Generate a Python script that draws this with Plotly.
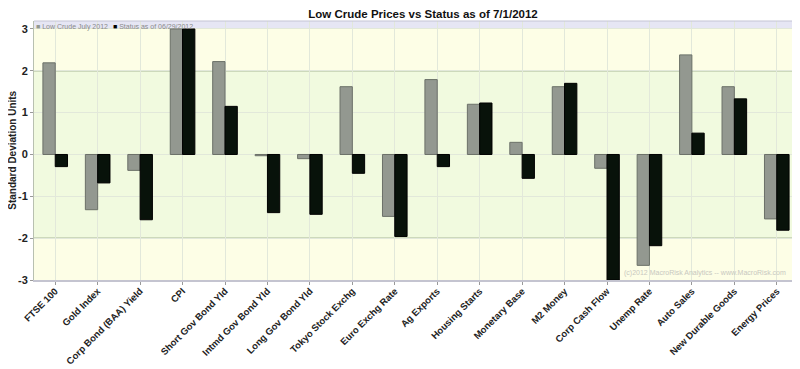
import plotly.graph_objects as go

categories = ["FTSE 100", "Gold Index", "Corp Bond (BAA) Yield", "CPI", "Short Gov Bond Yld",
              "Intmd Gov Bond Yld", "Long Gov Bond Yld", "Tokyo Stock Exchg", "Euro Exchg Rate",
              "Ag Exports", "Housing Starts", "Monetary Base", "M2 Money", "Corp Cash Flow",
              "Unemp Rate", "Auto Sales", "New Durable Goods", "Energy Prices"]
low_crude = [2.19, -1.32, -0.38, 3.0, 2.22, -0.03, -0.10, 1.62, -1.48,
             1.79, 1.20, 0.29, 1.62, -0.33, -2.65, 2.38, 1.62, -1.54]
status = [-0.29, -0.68, -1.56, 3.0, 1.15, -1.39, -1.43, -0.45, -1.96,
          -0.29, 1.23, -0.57, 1.70, -3.0, -2.18, 0.51, 1.33, -1.81]
y_ticks = [3, 2, 1, 0, -1, -2, -3]
series_names = ["Low Crude July 2012", "Status as of 06/29/2012"]

FONT = "Liberation Sans, Arial, sans-serif"
GREY = "#939890"
DARK = "#08120a"

fig = go.Figure()
fig.add_trace(go.Bar(x=categories, y=low_crude, name=series_names[0],
                     marker=dict(color=GREY, line=dict(color="#6b7068", width=1))))
fig.add_trace(go.Bar(x=categories, y=status, name=series_names[1],
                     marker=dict(color=DARK, line=dict(color="#000000", width=1))))

shapes = [
    dict(type="rect", xref="paper", yref="y", x0=0, x1=1, y0=2, y1=3, fillcolor="#fdfee6", line_width=0, layer="below"),
    dict(type="rect", xref="paper", yref="y", x0=0, x1=1, y0=-2, y1=2, fillcolor="#f1fadf", line_width=0, layer="below"),
    dict(type="rect", xref="paper", yref="y", x0=0, x1=1, y0=-3, y1=-2, fillcolor="#fdfee6", line_width=0, layer="below"),
    dict(type="rect", xref="paper", yref="y", x0=0, x1=1, y0=3, y1=3.19, fillcolor="#e6e6f4", line_width=0, layer="below"),
    dict(type="line", xref="paper", yref="y", x0=0, x1=1, y0=2, y1=2, line=dict(color="#a9b797", width=1.5), layer="below"),
    dict(type="line", xref="paper", yref="y", x0=0, x1=1, y0=-2, y1=-2, line=dict(color="#a9b797", width=1.5), layer="below"),
    dict(type="line", xref="paper", yref="paper", x0=0, x1=1, y0=1, y1=1, line=dict(color="#c4c4d4", width=1)),
    dict(type="line", xref="paper", yref="paper", x0=1, x1=1, y0=0, y1=1, line=dict(color="#c4c4d4", width=1)),
]

annotations = [
    dict(text="(c)2012 MacroRisk Analytics -- www.MacroRisk.com", xref="paper", yref="y",
         x=0.987, y=-2.83, xanchor="right", yanchor="middle", showarrow=False,
         font=dict(size=7, color="#c8c8c0")),
    dict(text="<span style='color:%s'>■</span> %s" % (GREY, series_names[0]), xref="paper", yref="paper",
         x=0.0, y=1.0, xanchor="left", yanchor="top", showarrow=False,
         font=dict(size=7, color="#8a8a8a")),
    dict(text="<span style='color:#000'>■</span> %s" % series_names[1], xref="paper", yref="paper",
         x=0.101, y=1.0, xanchor="left", yanchor="top", showarrow=False,
         font=dict(size=7, color="#8a8a8a")),
    dict(text="<b>Standard Deviation Units</b>", xref="paper", yref="paper",
         x=-0.0285, y=0.5, xanchor="center", yanchor="middle", textangle=-90, showarrow=False,
         font=dict(family=FONT, size=10, color="#222")),
]

fig.update_layout(
    width=792, height=361,
    margin=dict(l=26, r=2, t=13, b=89),
    paper_bgcolor="white", plot_bgcolor="rgba(0,0,0,0)",
    barmode="group", bargap=0.42, bargroupgap=0,
    title=dict(text="<b>Low Crude Prices vs Status as of 7/1/2012</b>", x=0.524, xanchor="center",
               y=1.0, yanchor="top", pad=dict(t=2, b=0), font=dict(family=FONT, size=11.5, color="#111")),
    font=dict(family=FONT),
    showlegend=False,
    shapes=shapes,
    annotations=annotations,
)
fig.update_xaxes(tickangle=-45, tickfont=dict(family=FONT, size=9.5, color="#222"),
                 showgrid=True, gridcolor="#e2e8da", gridwidth=1,
                 ticks="outside", ticklen=3, tickcolor="#999", ticklabelstandoff=-3,
                 showline=True, linecolor="#c4c4d0", linewidth=2, automargin=False,
                 tickprefix="<b>", ticksuffix="</b>")
fig.update_yaxes(range=[-3, 3.19], tickvals=y_ticks, ticktext=["<b>%d</b>" % v for v in y_ticks],
                 tickfont=dict(family=FONT, size=11, color="#222"),
                 showgrid=True, gridcolor="#e2e8da", zeroline=False,
                 ticks="outside", ticklen=3, tickcolor="#999",
                 showline=True, linecolor="#b8c0b0", linewidth=1, automargin=False)

fig.write_html("out.html")
